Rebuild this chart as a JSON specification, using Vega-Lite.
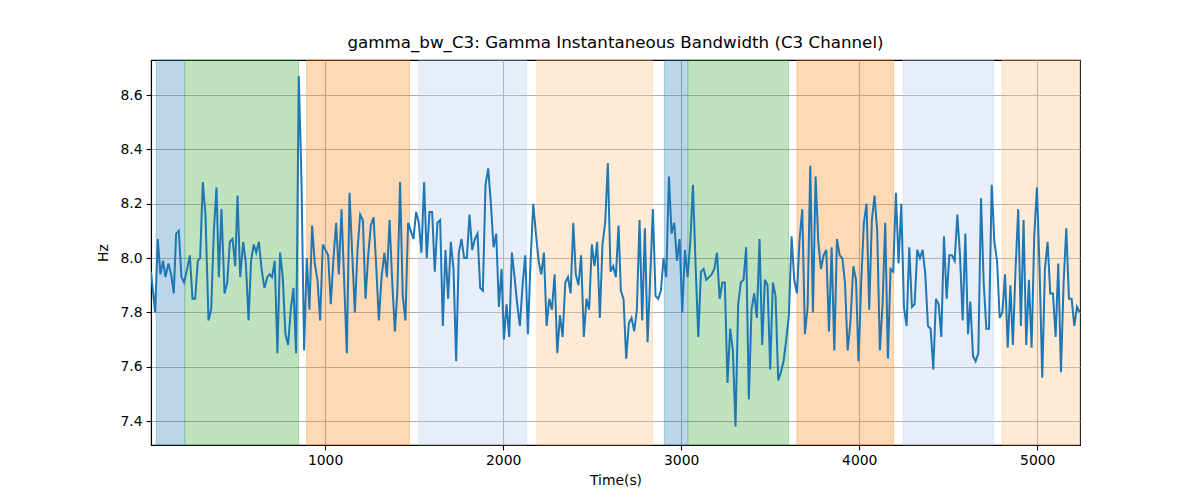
{
  "$schema": "https://vega.github.io/schema/vega-lite/v6.json",
  "autosize": {"type": "none"},
  "width": 929,
  "height": 385,
  "padding": {"left": 151, "top": 60, "right": 120, "bottom": 55},
  "title": {
    "text": "gamma_bw_C3: Gamma Instantaneous Bandwidth (C3 Channel)",
    "font": "DejaVu Sans",
    "fontSize": 16.7,
    "fontWeight": "normal",
    "color": "black",
    "anchor": "middle",
    "offset": 8
  },
  "datasets": {
    "spans": [
      {"start": 51, "end": 210, "stage": "blue"},
      {"start": 213, "end": 851, "stage": "green"},
      {"start": 896, "end": 1474, "stage": "orange"},
      {"start": 1526, "end": 2131, "stage": "lightblue"},
      {"start": 2189, "end": 2839, "stage": "lightorange"},
      {"start": 2905, "end": 3036, "stage": "blue"},
      {"start": 3039, "end": 3603, "stage": "green"},
      {"start": 3650, "end": 4193, "stage": "orange"},
      {"start": 4246, "end": 4755, "stage": "lightblue"},
      {"start": 4802, "end": 5240, "stage": "lightorange"}
    ],
    "signal": [
      {"t": 22, "hz": 7.95}, {"t": 45, "hz": 7.80}, {"t": 60, "hz": 8.07}, {"t": 75, "hz": 7.94},
      {"t": 90, "hz": 7.99}, {"t": 103, "hz": 7.93}, {"t": 120, "hz": 7.98}, {"t": 135, "hz": 7.94},
      {"t": 150, "hz": 7.87}, {"t": 163, "hz": 8.09}, {"t": 178, "hz": 8.10}, {"t": 193, "hz": 7.93},
      {"t": 208, "hz": 7.91}, {"t": 225, "hz": 7.96}, {"t": 240, "hz": 8.01}, {"t": 255, "hz": 7.85},
      {"t": 270, "hz": 7.85}, {"t": 285, "hz": 7.99}, {"t": 298, "hz": 8.00}, {"t": 313, "hz": 8.28},
      {"t": 328, "hz": 8.16}, {"t": 345, "hz": 7.77}, {"t": 360, "hz": 7.81}, {"t": 375, "hz": 8.10},
      {"t": 390, "hz": 8.26}, {"t": 403, "hz": 7.93}, {"t": 418, "hz": 8.18}, {"t": 435, "hz": 7.87},
      {"t": 450, "hz": 7.91}, {"t": 465, "hz": 8.06}, {"t": 480, "hz": 8.07}, {"t": 495, "hz": 7.97},
      {"t": 508, "hz": 8.23}, {"t": 523, "hz": 7.93}, {"t": 540, "hz": 8.06}, {"t": 555, "hz": 7.98},
      {"t": 570, "hz": 7.77}, {"t": 584, "hz": 7.99}, {"t": 599, "hz": 8.05}, {"t": 613, "hz": 8.02},
      {"t": 628, "hz": 8.06}, {"t": 643, "hz": 7.96}, {"t": 659, "hz": 7.89}, {"t": 676, "hz": 7.93},
      {"t": 689, "hz": 7.94}, {"t": 702, "hz": 7.93}, {"t": 717, "hz": 7.99}, {"t": 732, "hz": 7.65},
      {"t": 747, "hz": 8.02}, {"t": 762, "hz": 7.93}, {"t": 777, "hz": 7.72}, {"t": 792, "hz": 7.68},
      {"t": 807, "hz": 7.81}, {"t": 822, "hz": 7.89}, {"t": 837, "hz": 7.65}, {"t": 852, "hz": 8.67},
      {"t": 867, "hz": 8.29}, {"t": 882, "hz": 7.66}, {"t": 897, "hz": 8.00}, {"t": 912, "hz": 7.81},
      {"t": 927, "hz": 8.12}, {"t": 942, "hz": 7.98}, {"t": 957, "hz": 7.92}, {"t": 972, "hz": 7.77},
      {"t": 987, "hz": 8.05}, {"t": 1002, "hz": 8.03}, {"t": 1017, "hz": 8.01}, {"t": 1032, "hz": 7.83},
      {"t": 1047, "hz": 8.00}, {"t": 1062, "hz": 8.13}, {"t": 1077, "hz": 7.94}, {"t": 1092, "hz": 8.18},
      {"t": 1122, "hz": 7.65}, {"t": 1137, "hz": 8.24}, {"t": 1152, "hz": 8.02}, {"t": 1167, "hz": 7.80},
      {"t": 1182, "hz": 8.03}, {"t": 1197, "hz": 8.16}, {"t": 1212, "hz": 8.14}, {"t": 1227, "hz": 7.85},
      {"t": 1242, "hz": 8.01}, {"t": 1257, "hz": 8.12}, {"t": 1272, "hz": 8.15}, {"t": 1287, "hz": 7.97},
      {"t": 1302, "hz": 7.77}, {"t": 1317, "hz": 7.93}, {"t": 1333, "hz": 8.02}, {"t": 1347, "hz": 7.93},
      {"t": 1362, "hz": 8.14}, {"t": 1377, "hz": 7.91}, {"t": 1392, "hz": 7.73}, {"t": 1406, "hz": 7.88},
      {"t": 1421, "hz": 8.28}, {"t": 1436, "hz": 7.86}, {"t": 1451, "hz": 7.77}, {"t": 1466, "hz": 8.13},
      {"t": 1481, "hz": 8.10}, {"t": 1496, "hz": 8.07}, {"t": 1511, "hz": 8.17}, {"t": 1526, "hz": 8.13},
      {"t": 1541, "hz": 8.02}, {"t": 1556, "hz": 8.28}, {"t": 1571, "hz": 8.00}, {"t": 1586, "hz": 8.17},
      {"t": 1601, "hz": 8.17}, {"t": 1616, "hz": 7.95}, {"t": 1631, "hz": 8.13}, {"t": 1646, "hz": 8.14},
      {"t": 1661, "hz": 7.75}, {"t": 1676, "hz": 8.03}, {"t": 1691, "hz": 7.85}, {"t": 1706, "hz": 8.06},
      {"t": 1721, "hz": 7.96}, {"t": 1736, "hz": 7.62}, {"t": 1751, "hz": 8.02}, {"t": 1766, "hz": 8.07},
      {"t": 1781, "hz": 8.00}, {"t": 1796, "hz": 8.00}, {"t": 1811, "hz": 8.16}, {"t": 1826, "hz": 8.03},
      {"t": 1841, "hz": 8.07}, {"t": 1856, "hz": 8.09}, {"t": 1871, "hz": 7.89}, {"t": 1886, "hz": 7.88},
      {"t": 1901, "hz": 8.27}, {"t": 1916, "hz": 8.33}, {"t": 1931, "hz": 8.20}, {"t": 1946, "hz": 8.04},
      {"t": 1961, "hz": 8.09}, {"t": 1976, "hz": 7.82}, {"t": 1991, "hz": 7.96}, {"t": 2004, "hz": 7.70},
      {"t": 2019, "hz": 7.83}, {"t": 2034, "hz": 7.71}, {"t": 2049, "hz": 8.02}, {"t": 2064, "hz": 7.93},
      {"t": 2079, "hz": 7.83}, {"t": 2094, "hz": 7.75}, {"t": 2109, "hz": 7.90}, {"t": 2124, "hz": 8.01},
      {"t": 2139, "hz": 7.72}, {"t": 2154, "hz": 7.99}, {"t": 2169, "hz": 8.20}, {"t": 2184, "hz": 8.09},
      {"t": 2199, "hz": 7.99}, {"t": 2214, "hz": 7.94}, {"t": 2229, "hz": 8.02}, {"t": 2244, "hz": 7.75},
      {"t": 2259, "hz": 7.85}, {"t": 2274, "hz": 7.81}, {"t": 2289, "hz": 7.94}, {"t": 2304, "hz": 7.65},
      {"t": 2319, "hz": 7.79}, {"t": 2334, "hz": 7.71}, {"t": 2349, "hz": 7.91}, {"t": 2364, "hz": 7.93},
      {"t": 2379, "hz": 7.87}, {"t": 2394, "hz": 8.13}, {"t": 2408, "hz": 7.94}, {"t": 2423, "hz": 7.90},
      {"t": 2438, "hz": 8.01}, {"t": 2453, "hz": 7.71}, {"t": 2468, "hz": 7.85}, {"t": 2483, "hz": 7.81},
      {"t": 2498, "hz": 8.05}, {"t": 2513, "hz": 7.97}, {"t": 2528, "hz": 8.06}, {"t": 2543, "hz": 7.78},
      {"t": 2558, "hz": 8.05}, {"t": 2573, "hz": 8.13}, {"t": 2588, "hz": 8.35}, {"t": 2603, "hz": 7.95},
      {"t": 2618, "hz": 7.97}, {"t": 2633, "hz": 7.93}, {"t": 2648, "hz": 8.12}, {"t": 2661, "hz": 7.88},
      {"t": 2676, "hz": 7.85}, {"t": 2691, "hz": 7.63}, {"t": 2706, "hz": 7.76}, {"t": 2721, "hz": 7.78},
      {"t": 2736, "hz": 7.73}, {"t": 2751, "hz": 7.81}, {"t": 2766, "hz": 8.14}, {"t": 2781, "hz": 7.77},
      {"t": 2796, "hz": 8.11}, {"t": 2811, "hz": 7.69}, {"t": 2826, "hz": 7.93}, {"t": 2841, "hz": 8.18},
      {"t": 2856, "hz": 7.86}, {"t": 2871, "hz": 7.85}, {"t": 2886, "hz": 7.88}, {"t": 2901, "hz": 8.00},
      {"t": 2916, "hz": 7.93}, {"t": 2931, "hz": 8.30}, {"t": 2946, "hz": 8.09}, {"t": 2961, "hz": 8.13},
      {"t": 2976, "hz": 7.99}, {"t": 2991, "hz": 8.07}, {"t": 3006, "hz": 7.80}, {"t": 3021, "hz": 8.03},
      {"t": 3036, "hz": 7.93}, {"t": 3051, "hz": 8.06}, {"t": 3066, "hz": 8.27}, {"t": 3081, "hz": 7.97},
      {"t": 3096, "hz": 7.71}, {"t": 3111, "hz": 7.95}, {"t": 3126, "hz": 7.96}, {"t": 3141, "hz": 7.92},
      {"t": 3156, "hz": 7.93}, {"t": 3171, "hz": 7.94}, {"t": 3186, "hz": 7.96}, {"t": 3201, "hz": 8.02},
      {"t": 3216, "hz": 7.85}, {"t": 3231, "hz": 7.91}, {"t": 3245, "hz": 7.91}, {"t": 3260, "hz": 7.54},
      {"t": 3275, "hz": 7.74}, {"t": 3290, "hz": 7.66}, {"t": 3305, "hz": 7.38}, {"t": 3320, "hz": 7.83},
      {"t": 3335, "hz": 7.91}, {"t": 3350, "hz": 7.92}, {"t": 3365, "hz": 8.04}, {"t": 3380, "hz": 7.48},
      {"t": 3395, "hz": 7.81}, {"t": 3410, "hz": 7.87}, {"t": 3425, "hz": 7.78}, {"t": 3440, "hz": 8.07},
      {"t": 3455, "hz": 7.68}, {"t": 3470, "hz": 7.92}, {"t": 3485, "hz": 7.90}, {"t": 3500, "hz": 7.59},
      {"t": 3515, "hz": 7.91}, {"t": 3530, "hz": 7.86}, {"t": 3545, "hz": 7.55}, {"t": 3560, "hz": 7.58},
      {"t": 3575, "hz": 7.62}, {"t": 3590, "hz": 7.70}, {"t": 3605, "hz": 7.79}, {"t": 3620, "hz": 8.08},
      {"t": 3635, "hz": 7.92}, {"t": 3650, "hz": 7.87}, {"t": 3665, "hz": 8.07}, {"t": 3680, "hz": 8.18},
      {"t": 3695, "hz": 7.72}, {"t": 3710, "hz": 7.82}, {"t": 3725, "hz": 8.34}, {"t": 3740, "hz": 7.80},
      {"t": 3755, "hz": 8.30}, {"t": 3770, "hz": 8.06}, {"t": 3785, "hz": 7.96}, {"t": 3800, "hz": 8.01},
      {"t": 3815, "hz": 8.03}, {"t": 3830, "hz": 7.73}, {"t": 3845, "hz": 8.04}, {"t": 3860, "hz": 7.66},
      {"t": 3875, "hz": 8.07}, {"t": 3890, "hz": 8.01}, {"t": 3905, "hz": 8.00}, {"t": 3920, "hz": 7.91},
      {"t": 3935, "hz": 7.66}, {"t": 3950, "hz": 7.76}, {"t": 3967, "hz": 7.97}, {"t": 3982, "hz": 7.92},
      {"t": 3996, "hz": 7.62}, {"t": 4011, "hz": 7.91}, {"t": 4026, "hz": 8.13}, {"t": 4041, "hz": 8.20},
      {"t": 4056, "hz": 7.81}, {"t": 4071, "hz": 8.14}, {"t": 4086, "hz": 8.23}, {"t": 4101, "hz": 8.10},
      {"t": 4116, "hz": 7.66}, {"t": 4131, "hz": 7.83}, {"t": 4146, "hz": 8.13}, {"t": 4161, "hz": 7.63},
      {"t": 4176, "hz": 7.96}, {"t": 4191, "hz": 7.95}, {"t": 4206, "hz": 8.24}, {"t": 4221, "hz": 7.98},
      {"t": 4236, "hz": 8.20}, {"t": 4251, "hz": 7.82}, {"t": 4266, "hz": 7.75}, {"t": 4281, "hz": 8.04},
      {"t": 4296, "hz": 7.82}, {"t": 4311, "hz": 7.83}, {"t": 4326, "hz": 8.03}, {"t": 4341, "hz": 8.00},
      {"t": 4356, "hz": 8.03}, {"t": 4371, "hz": 7.94}, {"t": 4386, "hz": 7.75}, {"t": 4401, "hz": 7.74},
      {"t": 4416, "hz": 7.59}, {"t": 4431, "hz": 7.85}, {"t": 4446, "hz": 7.83}, {"t": 4461, "hz": 7.71},
      {"t": 4476, "hz": 8.08}, {"t": 4491, "hz": 7.85}, {"t": 4506, "hz": 8.01}, {"t": 4521, "hz": 8.01},
      {"t": 4536, "hz": 7.99}, {"t": 4551, "hz": 8.16}, {"t": 4566, "hz": 8.01}, {"t": 4581, "hz": 7.77},
      {"t": 4596, "hz": 8.09}, {"t": 4611, "hz": 7.72}, {"t": 4624, "hz": 7.84}, {"t": 4639, "hz": 7.64},
      {"t": 4654, "hz": 7.62}, {"t": 4669, "hz": 7.65}, {"t": 4684, "hz": 8.22}, {"t": 4699, "hz": 7.91},
      {"t": 4714, "hz": 7.74}, {"t": 4729, "hz": 7.74}, {"t": 4744, "hz": 8.27}, {"t": 4759, "hz": 8.06},
      {"t": 4774, "hz": 7.99}, {"t": 4789, "hz": 7.78}, {"t": 4804, "hz": 7.80}, {"t": 4819, "hz": 7.94},
      {"t": 4834, "hz": 7.67}, {"t": 4849, "hz": 7.90}, {"t": 4863, "hz": 7.68}, {"t": 4878, "hz": 7.96},
      {"t": 4893, "hz": 8.18}, {"t": 4908, "hz": 7.75}, {"t": 4923, "hz": 8.14}, {"t": 4938, "hz": 7.68},
      {"t": 4953, "hz": 7.92}, {"t": 4968, "hz": 7.67}, {"t": 4983, "hz": 8.08}, {"t": 4998, "hz": 8.26},
      {"t": 5013, "hz": 7.96}, {"t": 5028, "hz": 7.56}, {"t": 5043, "hz": 7.96}, {"t": 5058, "hz": 8.06},
      {"t": 5073, "hz": 7.87}, {"t": 5088, "hz": 7.87}, {"t": 5103, "hz": 7.71}, {"t": 5118, "hz": 7.98},
      {"t": 5133, "hz": 7.58}, {"t": 5148, "hz": 7.91}, {"t": 5163, "hz": 8.11}, {"t": 5178, "hz": 7.85},
      {"t": 5193, "hz": 7.85}, {"t": 5208, "hz": 7.75}, {"t": 5223, "hz": 7.82}, {"t": 5238, "hz": 7.80}
    ]
  },
  "layer": [
    {
      "data": {"name": "spans"},
      "mark": {"type": "rect", "fillOpacity": 0.3, "strokeOpacity": 0.3, "strokeWidth": 1},
      "encoding": {
        "x": {"field": "start", "type": "quantitative"},
        "x2": {"field": "end"},
        "fill": {
          "field": "stage", "type": "nominal", "legend": null,
          "scale": {
            "domain": ["blue", "green", "orange", "lightblue", "lightorange"],
            "range": ["#1f77b4", "#2ca02c", "#ff7f0e", "#aec7e8", "#ffbb78"]
          }
        },
        "stroke": {
          "field": "stage", "type": "nominal", "legend": null,
          "scale": {
            "domain": ["blue", "green", "orange", "lightblue", "lightorange"],
            "range": ["#1f77b4", "#2ca02c", "#ff7f0e", "#aec7e8", "#ffbb78"]
          }
        }
      }
    },
    {
      "data": {"name": "signal"},
      "mark": {"type": "line", "color": "#1f77b4", "strokeWidth": 2, "clip": true},
      "encoding": {
        "x": {
          "field": "t", "type": "quantitative",
          "scale": {"domain": [22, 5240], "nice": false, "zero": false},
          "axis": {"title": "Time(s)", "values": [1000, 2000, 3000, 4000, 5000], "format": "d"}
        },
        "y": {
          "field": "hz", "type": "quantitative",
          "scale": {"domain": [7.312, 8.729], "nice": false, "zero": false},
          "axis": {"title": "Hz", "values": [7.4, 7.6, 7.8, 8.0, 8.2, 8.4, 8.6], "format": ".1f"}
        }
      }
    }
  ],
  "config": {
    "view": {"stroke": "black", "strokeWidth": 1.1},
    "axis": {
      "labelFont": "DejaVu Sans",
      "labelFontSize": 13.9,
      "labelColor": "black",
      "titleFont": "DejaVu Sans",
      "titleFontSize": 13.9,
      "titleFontWeight": "normal",
      "titleColor": "black",
      "domainColor": "black",
      "domainWidth": 1.1,
      "tickColor": "black",
      "tickSize": 4.9,
      "tickWidth": 1.1,
      "labelPadding": 4,
      "grid": true,
      "gridColor": "#b0b0b0",
      "gridWidth": 1.1
    },
    "axisX": {"titlePadding": 6},
    "axisY": {"titlePadding": 10}
  }
}
